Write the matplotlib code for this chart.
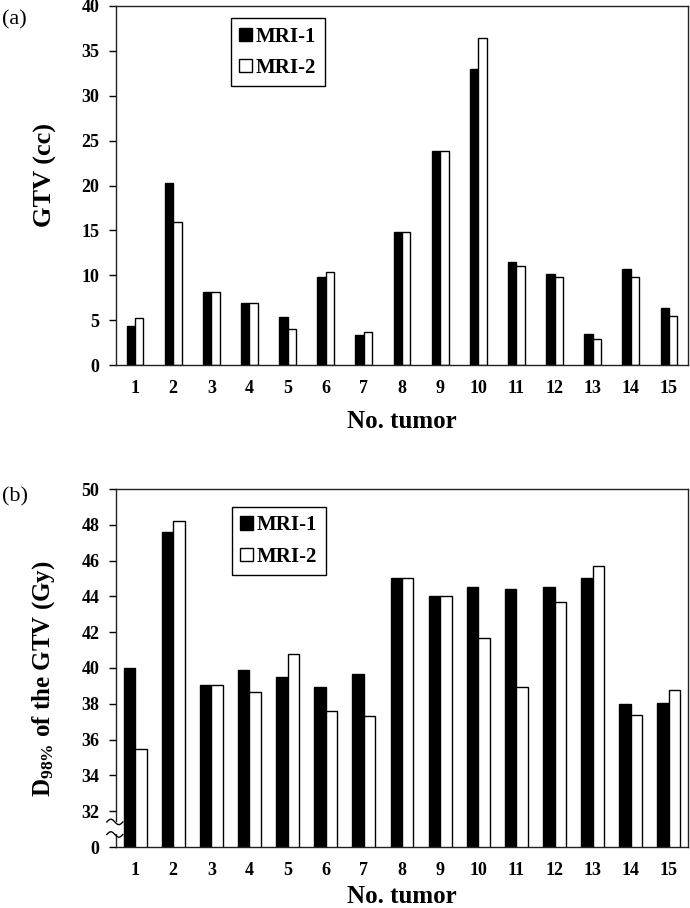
import matplotlib
matplotlib.use("Agg")
import matplotlib.pyplot as plt
import numpy as np
from matplotlib.patches import Rectangle

plt.rcParams['font.family'] = ['Liberation Serif', 'DejaVu Serif']
plt.rcParams['font.weight'] = 'bold'
plt.rcParams['mathtext.fontset'] = 'custom'
plt.rcParams['mathtext.rm'] = 'Liberation Serif:bold'
plt.rcParams['mathtext.bf'] = 'Liberation Serif:bold'
plt.rcParams['mathtext.it'] = 'Liberation Serif:bold'

tumors = list(range(1, 16))
gtv_mri1 = [4.3, 20.3, 8.1, 6.9, 5.4, 9.8, 3.3, 14.8, 23.8, 33.0, 11.5, 10.1, 3.4, 10.7, 6.3]
gtv_mri2 = [5.2, 15.9, 8.1, 6.9, 4.0, 10.4, 3.7, 14.8, 23.8, 36.4, 11.0, 9.8, 2.9, 9.8, 5.5]
d98_mri1 = [40.0, 47.6, 39.05, 39.9, 39.5, 38.95, 39.65, 45.0, 44.0, 44.5, 44.4, 44.5, 45.0, 38.0, 38.05]
d98_mri2 = [35.45, 48.2, 39.05, 38.65, 40.8, 37.6, 37.3, 45.0, 44.0, 41.65, 38.95, 43.7, 45.7, 37.35, 38.75]

gtv_ticks = [0, 5, 10, 15, 20, 25, 30, 35, 40]
d98_ticks = [30, 32, 34, 36, 38, 40, 42, 44, 46, 48, 50]
d98_ticklabels = ['0', '32', '34', '36', '38', '40', '42', '44', '46', '48', '50']
series_names = ['MRI-1', 'MRI-2']

W, H = 690, 908
fig = plt.figure(figsize=(W / 100, H / 100), dpi=100)

def axes_px(left, top, right, bottom):
    return fig.add_axes([left / W, 1 - bottom / H, (right - left) / W, (bottom - top) / H])

ax1 = axes_px(116, 6, 688, 365)
ax2 = axes_px(116, 489, 688, 847)

x = np.array(tumors)

def style(ax, xlabelpad):
    for s in ax.spines.values():
        s.set_linewidth(1.0)
        s.set_color('#222222')
    ax.set_xlim(0.5, 15.5)
    ax.set_xticks(x)
    ax.set_xticklabels([str(t) for t in tumors])
    ax.tick_params(axis='x', length=0, pad=11, labelsize=13)
    ax.tick_params(axis='y', direction='out', length=5, width=1, pad=7, labelsize=13)
    ax.set_xlabel('No. tumor', fontsize=18, fontweight='bold', labelpad=xlabelpad)

leg_kw = dict(loc='upper left', borderaxespad=0, fancybox=False, edgecolor='black', framealpha=1,
              prop={'family': 'Liberation Serif', 'weight': 'bold', 'size': 15},
              handlelength=0.6, handleheight=0.6, handletextpad=0.2,
              labelspacing=0.55, borderpad=0.4)

# Top chart
bw1 = 0.22
ax1.bar(x - bw1 / 2, gtv_mri1, bw1, color='black', edgecolor='black', linewidth=1.0, label=series_names[0])
ax1.bar(x + bw1 / 2, gtv_mri2, bw1, color='white', edgecolor='black', linewidth=1.0, label=series_names[1])
ax1.set_ylim(0, 40)
ax1.set_yticks(gtv_ticks)
style(ax1, 9)
ax1.set_ylabel('GTV (cc)', fontsize=19, fontweight='bold')
ax1.yaxis.set_label_coords(-0.103, 0.53)
leg1 = ax1.legend(bbox_to_anchor=(0.201, 0.966), **leg_kw)
leg1.get_frame().set_linewidth(1.0)

# Bottom chart
bw2 = 0.3
ax2.bar(x - bw2 / 2, d98_mri1, bw2, color='black', edgecolor='black', linewidth=1.0, label=series_names[0])
ax2.bar(x + bw2 / 2, d98_mri2, bw2, color='white', edgecolor='black', linewidth=1.0, label=series_names[1])
ax2.set_ylim(30, 50)
ax2.set_yticks(d98_ticks)
ax2.set_yticklabels(d98_ticklabels)
style(ax2, 4)
ax2.set_ylabel(r'D$_{\mathrm{98\%}}$ of the GTV (Gy)', fontsize=18, fontweight='bold')
ax2.yaxis.set_label_coords(-0.103, 0.47)
leg2 = ax2.legend(bbox_to_anchor=(0.203, 0.95), **leg_kw)
leg2.get_frame().set_linewidth(1.0)

# axis break marks on the bottom chart's left spine
trans = ax2.get_yaxis_transform()
tx = np.linspace(-0.016, 0.012, 40)
wave = 0.15 * np.sin((tx + 0.016) / 0.028 * 2 * np.pi)
y_lo, y_hi = 30.7, 31.4
ax2.add_patch(Rectangle((-0.004, y_lo), 0.008, y_hi - y_lo, transform=trans,
                        facecolor='white', edgecolor='none', clip_on=False, zorder=5))
ax2.plot(tx, y_lo + wave, color='black', lw=1.0, transform=trans, clip_on=False, zorder=6)
ax2.plot(tx, y_hi + wave, color='black', lw=1.0, transform=trans, clip_on=False, zorder=6)

fig.text(2 / W, 1 - 20 / H, '(a)', fontsize=16, fontweight='normal', va='center', ha='left')
fig.text(2 / W, 1 - 497 / H, '(b)', fontsize=16, fontweight='normal', va='center', ha='left')

fig.savefig('out.png', dpi=100)
